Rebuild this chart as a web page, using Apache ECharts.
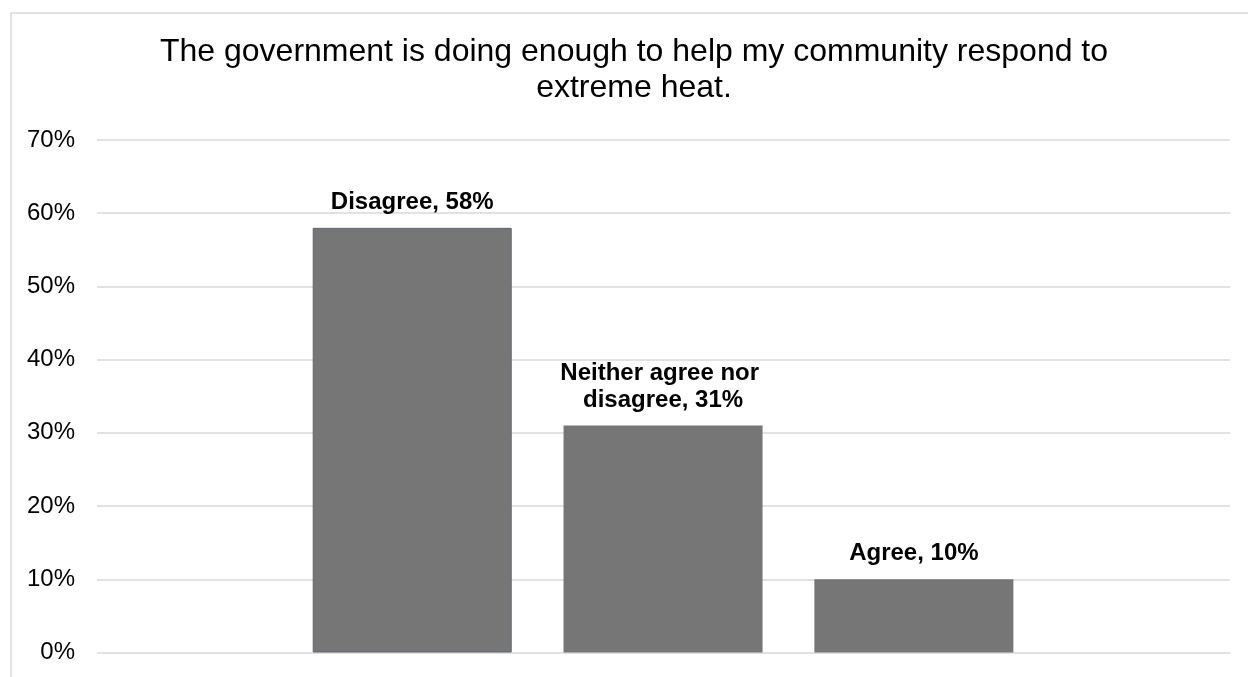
<!DOCTYPE html>
<html>
<head>
<meta charset="utf-8">
<title>Extreme heat survey</title>
<script src="https://cdn.jsdelivr.net/npm/echarts@6/dist/echarts.min.js"></script>
<style>
  html, body { margin: 0; padding: 0; background: #ffffff; }
  #chart { width: 1248px; height: 677px; }
</style>
</head>
<body>
<div id="chart"></div>
<script>
// Survey responses
const titleText = 'The government is doing enough to help my community respond to\nextreme heat.';
const categories = ['Disagree', 'Neither agree nor disagree', 'Agree'];
const shares = [58, 31, 10];
const yTicks = [0, 10, 20, 30, 40, 50, 60, 70];

const FONT = 'Arial, "Liberation Sans", sans-serif';
const BAR = '#767676';

const chart = echarts.init(document.getElementById('chart'), null, { renderer: 'canvas' });

const yMin = yTicks[0];
const yMax = yTicks[yTicks.length - 1];
const yStep = yTicks[1] - yTicks[0];

chart.setOption({
  animation: false,
  backgroundColor: '#ffffff',
  title: {
    text: titleText,
    left: 634,
    top: 34,
    textAlign: 'center',
    padding: 0,
    textStyle: {
      fontFamily: FONT,
      fontSize: 32,
      fontWeight: 'normal',
      color: '#000000',
      lineHeight: 36
    }
  },
  graphic: [{
    type: 'rect',
    silent: true,
    shape: { x: 11, y: 13, width: 1260, height: 700 },
    style: { fill: 'none', stroke: '#d9d9d9', lineWidth: 1.5 }
  }],
  grid: [
    // full-width grid: gridlines and percentage labels
    { left: 97, right: 18, top: 140, bottom: 24.5, containLabel: false },
    // bar grid
    { left: 286.8, right: 208.7, top: 140, bottom: 24.5, containLabel: false }
  ],
  xAxis: [
    { type: 'category', gridIndex: 0, data: [''], show: false },
    { type: 'category', gridIndex: 1, data: categories, show: false }
  ],
  yAxis: [
    {
      type: 'value', gridIndex: 0,
      min: yMin, max: yMax, interval: yStep,
      axisLine: { show: false },
      axisTick: { show: false },
      axisLabel: {
        formatter: '{value}%',
        fontFamily: FONT,
        fontSize: 24,
        color: '#000000',
        margin: 22
      },
      splitLine: { lineStyle: { color: '#d9d9d9', width: 1.5 } }
    },
    {
      type: 'value', gridIndex: 1,
      min: yMin, max: yMax, interval: yStep,
      show: false,
      splitLine: { show: false }
    }
  ],
  series: [{
    type: 'bar',
    xAxisIndex: 1,
    yAxisIndex: 1,
    barWidth: 199,
    data: shares.map((v, i) => (i === 0
      ? { value: v, itemStyle: { color: BAR, borderColor: '#5d6674', borderWidth: 1 } }
      : { value: v })),
    itemStyle: { color: BAR },
    label: {
      show: true,
      position: 'top',
      distance: 12,
      formatter: '{b}, {c}%',
      width: 220,
      overflow: 'break',
      align: 'center',
      fontFamily: FONT,
      fontSize: 24,
      fontWeight: 'bold',
      lineHeight: 27,
      color: '#000000'
    }
  }]
});
</script>
</body>
</html>
